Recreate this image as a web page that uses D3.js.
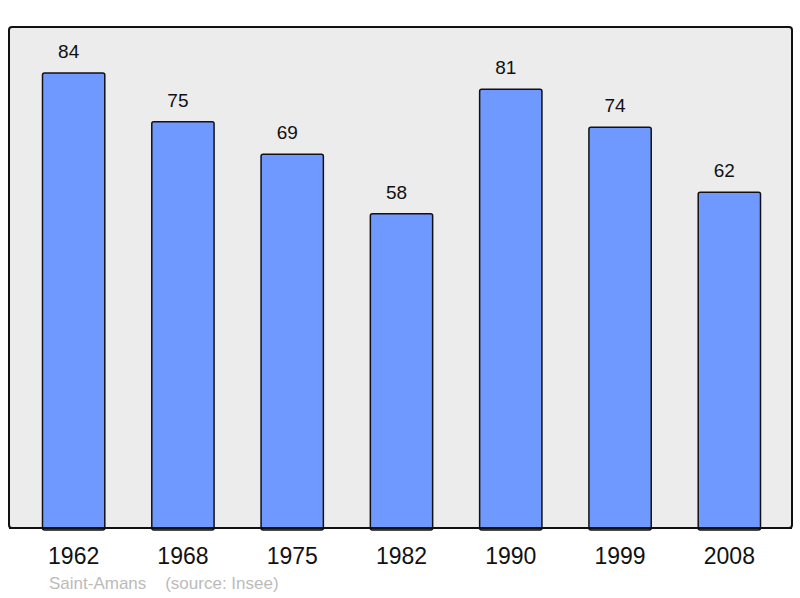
<!DOCTYPE html>
<html><head><meta charset="utf-8">
<script src="https://cdn.jsdelivr.net/npm/d3@7"></script>
<style>body{margin:0;background:#fff}svg{display:block}</style>
</head><body>
<script>
const years = ["1962","1968","1975","1982","1990","1999","2008"];
const population = [84,75,69,58,81,74,62];
const footerName = "Saint-Amans";
const footerSource = "(source: Insee)";

const W = 800, H = 598;
const frame = {x0: 9, y0: 27, x1: 792, y1: 528};
const svg = d3.select("body").append("svg").attr("width", W).attr("height", H);

svg.append("rect")
  .attr("x", frame.x0).attr("y", frame.y0)
  .attr("width", frame.x1 - frame.x0).attr("height", frame.y1 - frame.y0)
  .attr("rx", 3).attr("fill", "#ececec").attr("stroke", "#111").attr("stroke-width", 2);

const x = d3.scaleBand().domain(years).range([19, 784]).paddingInner(0.43).paddingOuter(0.215);
const y = d3.scaleLinear().domain([0, 84]).range([frame.y1, 73]);

const g = svg.append("g");
g.selectAll("rect.bar").data(years).join("rect")
  .attr("class", "bar")
  .attr("x", d => x(d)).attr("width", x.bandwidth())
  .attr("y", (d, i) => y(population[i]))
  .attr("height", (d, i) => frame.y1 - y(population[i]) + 2)
  .attr("rx", 2)
  .attr("fill", "#7099ff").attr("stroke", "#111").attr("stroke-width", 1.5);

svg.append("line").attr("x1", frame.x0).attr("x2", frame.x1)
  .attr("y1", frame.y1).attr("y2", frame.y1).attr("stroke", "#111").attr("stroke-width", 2);

g.selectAll("text.val").data(years).join("text")
  .attr("class", "val")
  .attr("x", d => x(d) + x.bandwidth() / 2 - 5)
  .attr("y", (d, i) => y(population[i]) - 15)
  .attr("text-anchor", "middle")
  .attr("font-family", "Liberation Sans, Arial, sans-serif")
  .attr("font-size", 19).attr("fill", "#111")
  .text((d, i) => population[i]);

const xAxis = d3.axisBottom(x).tickSize(0).tickPadding(0);
const ax = svg.append("g").attr("transform", `translate(0,${frame.y1})`).call(xAxis);
ax.select(".domain").remove();
ax.selectAll("text")
  .attr("y", 36).attr("dy", 0)
  .attr("font-family", "Liberation Sans, Arial, sans-serif")
  .attr("font-size", 23).attr("fill", "#111");

svg.append("text").attr("x", 49).attr("y", 589)
  .attr("font-family", "Liberation Sans, Arial, sans-serif")
  .attr("font-size", 17).attr("fill", "#bbbbbb")
  .attr("xml:space", "preserve")
  .text(footerName + "    " + footerSource);
</script>
</body></html>
